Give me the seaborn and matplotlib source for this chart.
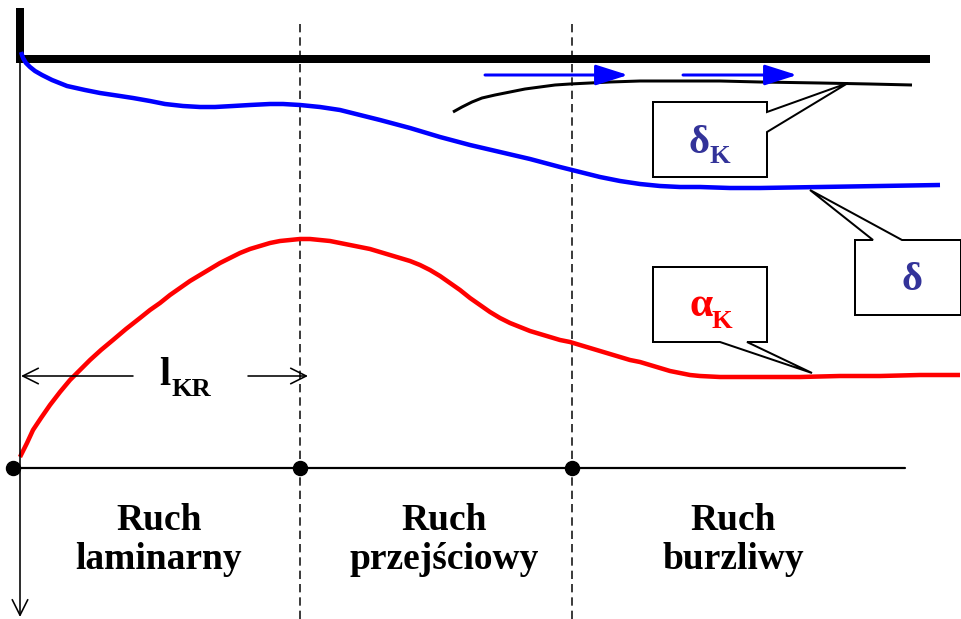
import matplotlib
matplotlib.use("Agg")
import matplotlib.pyplot as plt
from matplotlib.patches import Polygon
import seaborn as sns

# ---- data (schematic, pixel-space coordinates) ----
delta_x = [21, 23, 26, 30, 35, 42, 52, 67, 85, 100, 120, 133, 150, 165, 183, 200, 215,
           233, 250, 270, 283, 300, 320, 340, 360, 380, 410, 440, 470, 500, 530, 560,
           580, 600, 620, 640, 660, 680, 700, 730, 760, 820, 880, 940]
delta_y = [52, 58, 63, 67, 71, 75, 80, 86, 90, 93, 96, 98, 101, 104, 106, 107, 107,
           106, 105, 104, 104, 105, 107, 110, 115, 120, 128, 137, 145, 152, 159, 167,
           172, 177, 181, 184, 186, 187, 187, 188, 188, 187, 186, 185]

deltak_x = [453, 462, 472, 482, 495, 510, 525, 540, 555, 570, 590, 610, 640, 680, 720,
            760, 820, 870, 912]
deltak_y = [112, 107, 102, 98, 95, 92, 89, 87, 85, 84, 83, 82, 81, 81, 81, 82, 83, 84, 85]

alpha_x = [20, 27, 33, 41, 50, 60, 70, 80, 90, 101, 113, 126, 140, 150, 160, 170, 180,
           190, 200, 210, 220, 230, 240, 250, 260, 270, 280, 290, 300, 310, 320, 330,
           340, 350, 360, 370, 380, 390, 400, 410, 420, 430, 440, 450, 460, 470, 480,
           490, 500, 510, 520, 530, 540, 550, 560, 570, 580, 590, 600, 610, 620, 630,
           640, 650, 660, 670, 680, 690, 700, 720, 740, 770, 800, 840, 880, 920, 960]
alpha_y = [457, 443, 430, 418, 405, 392, 380, 370, 360, 350, 340, 329, 318, 310, 303,
           295, 288, 281, 275, 269, 263, 258, 253, 249, 246, 243, 241, 240, 239, 239,
           240, 241, 243, 245, 247, 249, 252, 255, 258, 261, 265, 270, 276, 283, 290,
           298, 305, 312, 318, 323, 327, 331, 334, 337, 340, 342, 345, 348, 351, 354,
           357, 360, 362, 365, 368, 371, 373, 375, 376, 377, 377, 377, 377, 376, 376,
           375, 375]

region_x = [300, 572]
regions = [("Ruch", "laminarny"), ("Ruch", "przejściowy"), ("Ruch", "burzliwy")]
region_cx = [159, 444, 733]

sns.set_theme(style="white")
plt.rcParams["lines.scale_dashes"] = False
SERIF = ["Liberation Serif", "DejaVu Serif"]

fig = plt.figure(figsize=(9.61, 6.19), dpi=100)
ax = fig.add_axes([0, 0, 1, 1])
ax.set_xlim(0, 961)
ax.set_ylim(619, 0)
ax.axis("off")

PX = 0.72  # points per pixel

# plate (thick black)
ax.plot([20, 20], [8, 59], color="black", lw=8 * PX, solid_capstyle="butt")
ax.plot([16, 930], [59, 59], color="black", lw=8 * PX, solid_capstyle="butt")

# dashed region boundaries
for xv in region_x:
    ax.plot([xv, xv], [24, 619], color="black", lw=1.5 * PX, linestyle=(0, (6, 3.6)))

# base line and dots
ax.plot([13, 905], [468, 468], color="black", lw=2.2 * PX)
ax.plot([13] + region_x, [468] * 3, "o", color="black", markersize=14 * PX)

# vertical axis with arrow
ax.annotate("", xy=(20, 617), xytext=(20, 59),
            arrowprops=dict(arrowstyle="->,head_length=0.7,head_width=0.35",
                            color="black", lw=1.6 * PX, mutation_scale=16,
                            shrinkA=0, shrinkB=0))

# curves
line_kw = dict(sort=False, estimator=None, ax=ax)
sns.lineplot(x=delta_x, y=delta_y, color="#0000FF", linewidth=4.5 * PX, **line_kw)
sns.lineplot(x=deltak_x, y=deltak_y, color="black", linewidth=3 * PX, **line_kw)
sns.lineplot(x=alpha_x, y=alpha_y, color="#FF0000", linewidth=4.5 * PX, **line_kw)
for ln in ax.get_lines()[-3:]:
    ln.set_solid_joinstyle("round")
    ln.set_solid_capstyle("butt")

# flow arrows
for x0, x1 in [(485, 628), (683, 797)]:
    ax.annotate("", xy=(x1, 75), xytext=(x0, 75),
                arrowprops=dict(arrowstyle="-|>,head_length=1.1,head_width=0.35",
                                color="#0000FF", lw=3 * PX, mutation_scale=18,
                                shrinkA=0, shrinkB=0))

# l_KR dimension arrows
for x0, x1 in [(133, 21), (248, 308)]:
    ax.annotate("", xy=(x1, 376), xytext=(x0, 376),
                arrowprops=dict(arrowstyle="->,head_length=0.7,head_width=0.35",
                                color="black", lw=1.6 * PX, mutation_scale=16,
                                shrinkA=0, shrinkB=0))
ax.text(171, 385, "l", family=SERIF, fontweight="bold", fontsize=29,
        ha="right", va="baseline", color="black")
ax.text(172, 396, "KR", family=SERIF, fontweight="bold", fontsize=19,
        ha="left", va="baseline", color="black")

# callouts
co_kw = dict(closed=True, facecolor="white", edgecolor="black", lw=2 * PX, zorder=5)
ax.add_patch(Polygon([(653, 102), (767, 102), (767, 112), (848, 83), (767, 132),
                      (767, 177), (653, 177)], **co_kw))
ax.add_patch(Polygon([(855, 240), (873, 240), (810, 190), (902, 240), (961, 240),
                      (961, 315), (855, 315)], **co_kw))
ax.add_patch(Polygon([(653, 267), (767, 267), (767, 342), (747, 342), (812, 373),
                      (720, 342), (653, 342)], **co_kw))

DB = "#333399"
ax.text(709, 153, "δ", family=SERIF, fontweight="bold", fontsize=29, ha="right",
        va="baseline", color=DB, zorder=6)
ax.text(710, 163, "K", family=SERIF, fontweight="bold", fontsize=19, ha="left",
        va="baseline", color=DB, zorder=6)
ax.text(912, 290, "δ", family=SERIF, fontweight="bold", fontsize=29, ha="center",
        va="baseline", color=DB, zorder=6)
ax.text(713, 316, "α", family=SERIF, fontweight="bold", fontsize=30, ha="right",
        va="baseline", color="#FF0000", zorder=6)
ax.text(712, 328, "K", family=SERIF, fontweight="bold", fontsize=19, ha="left",
        va="baseline", color="#FF0000", zorder=6)

# region labels
for cx, (l1, l2) in zip(region_cx, regions):
    ax.text(cx, 530, l1, family=SERIF, fontweight="bold", fontsize=27,
            ha="center", va="baseline", color="black")
    ax.text(cx, 569, l2, family=SERIF, fontweight="bold", fontsize=27,
            ha="center", va="baseline", color="black")

fig.savefig("out.png", dpi=100, facecolor="white")
